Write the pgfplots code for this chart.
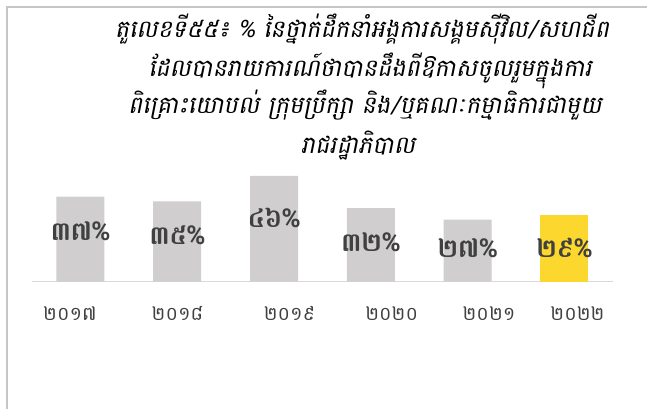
\documentclass[border=0pt]{standalone}
\usepackage{fontspec}
\usepackage{pgfplots}
\pgfplotsset{compat=1.18}
\newfontfamily\khmer[Script=Khmer]{Battambang}
\newfontfamily\khmerit[Script=Khmer,FakeSlant=0.2]{Battambang}
\newfontfamily\khmerbf[Script=Khmer]{Battambang Bold}
\definecolor{bargrey}{HTML}{D0CECE}
\definecolor{baryellow}{HTML}{FCD82E}
\definecolor{txtgrey}{HTML}{404040}
\definecolor{framegrey}{HTML}{C6C6C6}
\definecolor{axisgrey}{HTML}{D9D9D9}

\begin{document}
\begin{tikzpicture}[x=1pt,y=1pt]
\useasboundingbox (0,0) rectangle (647,409);
% chart area border, cut off at the right and bottom
\draw[framegrey, line width=2pt] (6.7,-20) -- (6.7,401.7) -- (680,401.7);
% title
\begin{scope}[every node/.style={anchor=base, font=\khmerit\fontsize{24}{28}\selectfont}]
\node at (362,371) {តួលេខទី៥៥៖ \% នៃថ្នាក់ដឹកនាំអង្គការសង្គមស៊ីវិល/សហជីព};
\node at (370,332.3) {ដែលបានរាយការណ៍ថាបានដឹងពីឱកាសចូលរួមក្នុងការ};
\node at (365,295.7) {ពិគ្រោះយោបល់ ក្រុមប្រឹក្សា និង/ឬគណៈកម្មាធិការជាមួយ};
\node at (358,255.7) {រាជរដ្ឋាភិបាល};
\end{scope}
\begin{axis}[
  at={(32.1pt,127.3pt)}, anchor=south west,
  x=96.76pt, y=2.298pt,
  xmin=-0.5, xmax=5.5, ymin=0, ymax=50,
  axis x line*=bottom, axis y line=none,
  x axis line style={axisgrey, line width=1.5pt, -},
  xtick={-0.109,1.002,2.160,3.216,4.222,5.136},
  xticklabels={២០១៧,២០១៨,២០១៩,២០២០,២០២១,២០២២},
  major tick length=0pt,
  xticklabel style={font=\khmer\fontsize{19}{22}\selectfont, text=txtgrey, anchor=base, yshift=-39.3pt},
  clip=false,
]
\addplot[ybar, bar width=48pt, bar shift=0pt, fill=bargrey, draw=none]
  coordinates {(0,37) (1,35) (2,46) (3,32) (4,27)};
\addplot[ybar, bar width=48pt, bar shift=0pt, fill=baryellow, draw=none]
  coordinates {(5,29)};
% value labels inside the bars
\addplot[draw=none, mark=none, nodes near coords, point meta=explicit symbolic,
  every node near coord/.append style={anchor=base, text=txtgrey, font=\khmerbf\fontsize{26}{30}\selectfont}]
  coordinates {(0,18.1) [៣៧\%] (1,16.0) [៣៥\%] (2,23.8) [៤៦\%] (3,13.1) [៣២\%] (4,10.6) [២៧\%] (5,10.6) [២៩\%]};
\end{axis}
\end{tikzpicture}
\end{document}
